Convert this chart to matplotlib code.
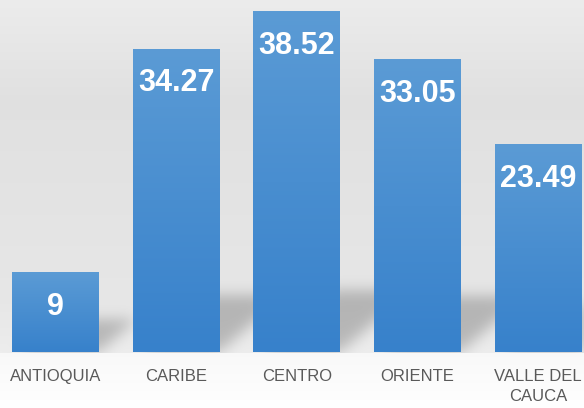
import numpy as np
import matplotlib
matplotlib.use('Agg')
import matplotlib.pyplot as plt
from matplotlib.colors import LinearSegmentedColormap
from matplotlib.path import Path

regiones = ['ANTIOQUIA', 'CARIBE', 'CENTRO', 'ORIENTE', 'VALLE DEL\nCAUCA']
valores = [9, 34.27, 38.52, 33.05, 23.49]
etiquetas = ['9', '34.27', '38.52', '33.05', '23.49']

W, H, DPI = 584, 408, 100
fig = plt.figure(figsize=(W / DPI, H / DPI), dpi=DPI)
fuente = ['Liberation Sans Narrow', 'Liberation Sans', 'DejaVu Sans']

# fondo (gradiente gris + sombras)
bg_ax = fig.add_axes([0, 0, 1, 1], zorder=0)
bg_ax.axis('off')

ax = fig.add_axes([0, 56 / H, 1, 1 - 56 / H], zorder=1)
ax.patch.set_alpha(0)
x = np.arange(len(valores))
barras = ax.bar(x, valores, width=0.72, color='none', edgecolor='none')
for s in ax.spines.values():
    s.set_visible(False)
ax.set_yticks([])
ax.set_xticks([])

# gradiente de las barras
cmap = LinearSegmentedColormap.from_list('azul', ['#3781cb', '#5b9bd5'])
grad = np.linspace(0, 1, 256).reshape(-1, 1)
for b in barras:
    x0, y0 = b.get_x(), b.get_y()
    im = ax.imshow(grad, cmap=cmap, origin='lower', aspect='auto',
                   extent=[x0, x0 + b.get_width(), y0, y0 + b.get_height()],
                   zorder=2)
    im.set_clip_path(b)
ax.set_xlim(-0.46, 4.38)
ax.set_ylim(0, 39.77)

# etiquetas de valor
for xi, v, t in zip(x, valores, etiquetas):
    ax.annotate(t, (xi, v), xytext=(0, -14), textcoords='offset points',
                ha='center', va='top', color='white', fontsize=22,
                fontweight='bold', family=fuente, zorder=3)

# etiquetas de categoria
for xi, r in zip(x, regiones):
    ax.annotate(r, (xi, 0), xytext=(0, -12), textcoords='offset points',
                ha='center', va='top', color='#595959', fontsize=12,
                family=fuente, linespacing=1.45)

# fondo con gradiente vertical
fig.canvas.draw()
filas = np.arange(H)
piso = H - ax.transData.transform((0, 0))[1]
gris = np.interp(filas, [0, 100, piso - 50, piso, piso + 1, H],
                 [0.925, 0.88, 0.905, 0.93, 0.975, 1.0])
img = np.repeat(gris[:, None], W, axis=1)

# sombras proyectadas detras de las barras
mascara = np.zeros((H, W))
yy, xx = np.mgrid[0:H, 0:W]
pts = np.column_stack([xx.ravel() + 0.5, yy.ravel() + 0.5])
for b in barras:
    (l, bot), (r, top) = ax.transData.transform(
        [(b.get_x(), 0), (b.get_x() + b.get_width(), b.get_height())])
    bot_r, top_r = H - bot, H - top
    h = bot_r - top_r
    dy = 24 + 0.11 * h
    dx = 1.15 * dy
    poly = Path([(l + 8, bot_r), (r, bot_r), (r + dx, bot_r - dy),
                 (l + 8 + dx, bot_r - dy)])
    mascara = np.maximum(mascara,
                         poly.contains_points(pts).reshape(H, W).astype(float))
k = np.exp(-0.5 * (np.arange(-24, 25) / 7.0) ** 2)
k /= k.sum()
mascara = np.apply_along_axis(lambda v: np.convolve(v, k, mode='same'), 0, mascara)
mascara = np.apply_along_axis(lambda v: np.convolve(v, k, mode='same'), 1, mascara)
mascara[filas > piso] *= 0.0
img = img * (1 - 0.22 * mascara)

bg_ax.imshow(np.dstack([img] * 3), aspect='auto', extent=[0, 1, 0, 1])
bg_ax.set_xlim(0, 1)
bg_ax.set_ylim(0, 1)

fig.savefig('out.png', dpi=DPI)
